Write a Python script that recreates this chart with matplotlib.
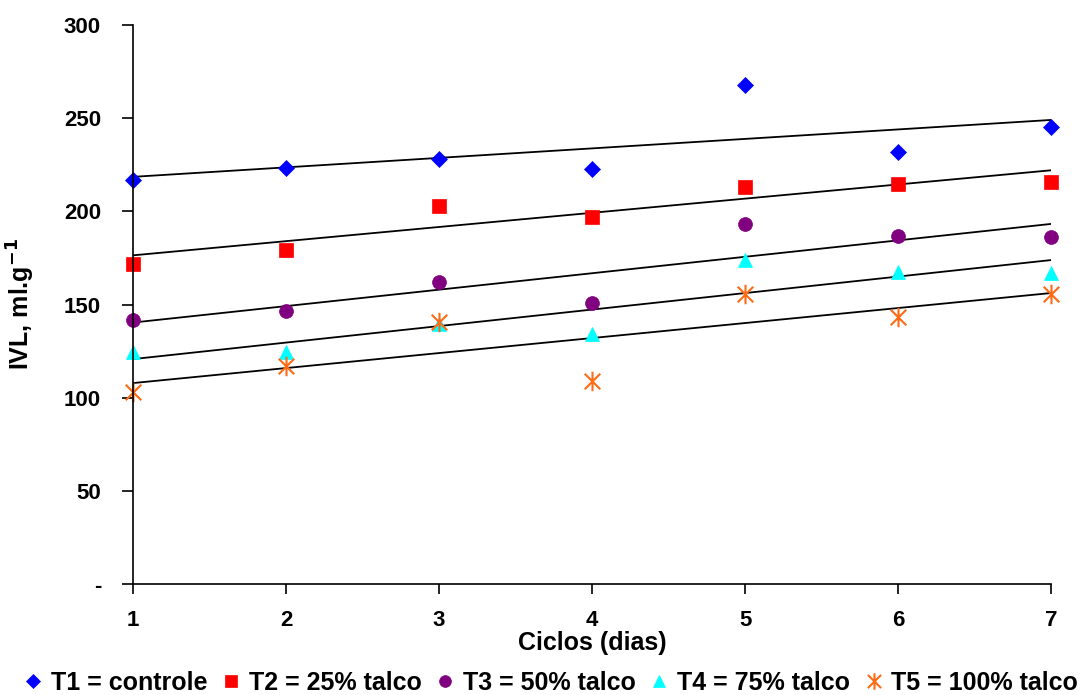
import numpy as np
import matplotlib
matplotlib.use("Agg")
import matplotlib.pyplot as plt
from matplotlib.path import Path

plt.rcParams["font.family"] = ["Liberation Sans", "DejaVu Sans"]
plt.rcParams["font.weight"] = "bold"

ciclos = [1, 2, 3, 4, 5, 6, 7]
t1 = [217, 223.5, 228, 222.5, 268, 232, 245.5]
t2 = [172, 179, 203, 197, 213, 214.5, 216]
t3 = [141.5, 146.5, 162, 151, 193, 187, 186.5]
t4 = [124.5, 124.5, 139.5, 134, 174, 167.5, 167]
t5 = [103, 117, 140.5, 109, 155.5, 143.5, 155.5]
labels = ["T1 = controle", "T2 = 25% talco", "T3 = 50% talco",
          "T4 = 75% talco", "T5 = 100% talco"]
yticks = [0, 50, 100, 150, 200, 250, 300]
ytick_labels = ["-", "50", "100", "150", "200", "250", "300"]

# excel style asterisk: x plus vertical bar
star = Path([(-1, -1), (1, 1), (-1, 1), (1, -1), (0, -1.25), (0, 1.25)],
            [Path.MOVETO, Path.LINETO, Path.MOVETO, Path.LINETO,
             Path.MOVETO, Path.LINETO])

series = [t1, t2, t3, t4, t5]
colors = ["#0000FF", "#FF0000", "#800080", "#00FFFF", "#FF6A13"]
markers = ["D", "s", "o", "^", star]
sizes = [8, 9.5, 10, 10.5, 14]

fig = plt.figure(figsize=(10.84, 6.95), dpi=100)
ax = fig.add_axes([0.1227, 0.1597, 0.8469, 0.8043])

x = np.array(ciclos)
handles = []
for vals, c, m, s, lab in zip(series, colors, markers, sizes, labels):
    h, = ax.plot(x, vals, linestyle="none", marker=m, color=c, markersize=s,
                 markeredgewidth=1.5 if m is star else 0.5, label=lab,
                 clip_on=False)
    handles.append(h)
    # linear trend line for each treatment
    k, b = np.polyfit(x, vals, 1)
    ax.plot([x[0], x[-1]], [k * x[0] + b, k * x[-1] + b], color="black",
            linewidth=1.3, zorder=1)

ax.set_xlim(1, 7)
ax.set_ylim(0, 300)
ax.set_xticks(ciclos)
ax.set_yticks(yticks)
ax.set_yticklabels(ytick_labels)
ax.spines["top"].set_visible(False)
ax.spines["right"].set_visible(False)
for sp in ["left", "bottom"]:
    ax.spines[sp].set_linewidth(1.2)
ax.tick_params(axis="y", direction="out", length=8, width=1.2, pad=15,
               labelsize=16)
ax.tick_params(axis="x", direction="out", length=7, width=1.2, pad=12,
               labelsize=16)
ax.set_xlabel("Ciclos (dias)", fontsize=18, fontweight="bold")
ax.xaxis.set_label_coords(0.5, -0.084)
ax.set_ylabel("IVL, ml.g$^{\\mathbf{-1}}$", fontsize=18, fontweight="bold")
ax.yaxis.set_label_coords(-0.1046, 0.5)

fig.legend(handles=handles, loc="center", bbox_to_anchor=(0.508, 0.017),
           ncol=5, frameon=False, fontsize=18, handlelength=0.8,
           handletextpad=0.3, columnspacing=0.55, markerscale=0.85,
           borderaxespad=0, borderpad=0)

fig.savefig("out.png", dpi=100)
